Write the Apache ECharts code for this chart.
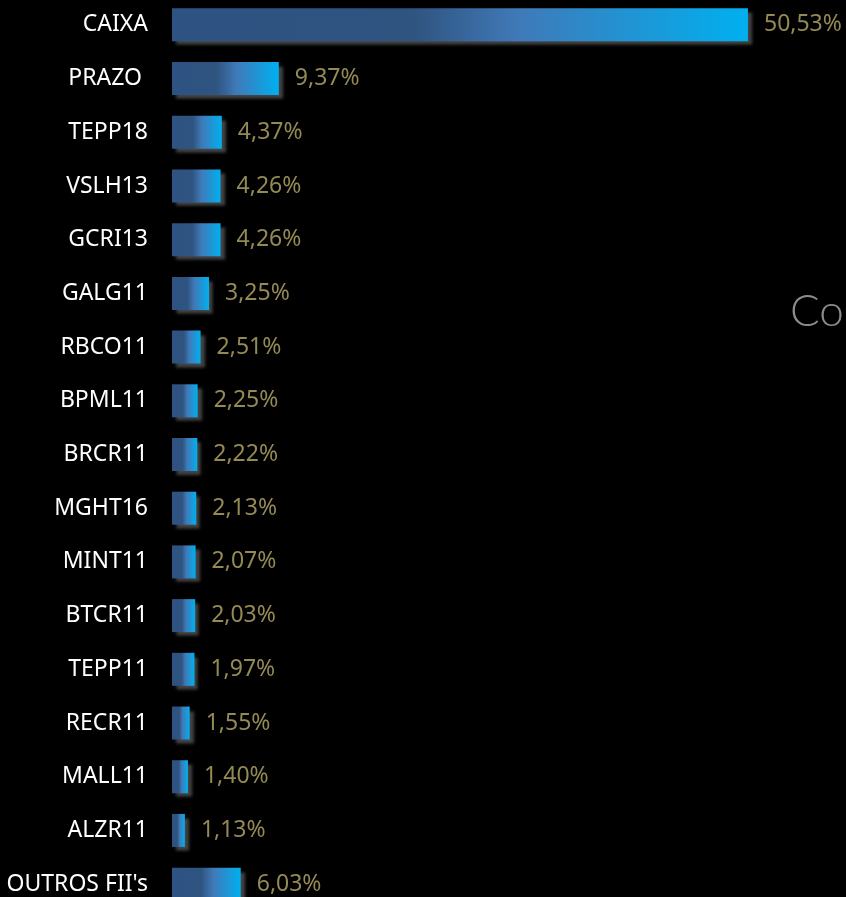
<!DOCTYPE html>
<html>
<head>
<meta charset="utf-8">
<script src="https://cdn.jsdelivr.net/npm/echarts@6/dist/echarts.min.js"></script>
<style>
  html, body { margin: 0; padding: 0; background: #000; }
  #chart { width: 846px; height: 897px; }
</style>
</head>
<body>
<div id="chart"></div>
<script>
const categories = ['CAIXA', 'PRAZO ', 'TEPP18', 'VSLH13', 'GCRI13', 'GALG11', 'RBCO11', 'BPML11', 'BRCR11', 'MGHT16', 'MINT11', 'BTCR11', 'TEPP11', 'RECR11', 'MALL11', 'ALZR11', "OUTROS FII's"]
const values = [50.53, 9.37, 4.37, 4.26, 4.26, 3.25, 2.51, 2.25, 2.22, 2.13, 2.07, 2.03, 1.97, 1.55, 1.40, 1.13, 6.03]
const titleText = 'Composição'

const chart = echarts.init(document.getElementById('chart'))

const barColor = new echarts.graphic.LinearGradient(0, 0, 1, 0, [
  { offset: 0, color: '#2e5383' },
  { offset: 0.42, color: '#2f5480' },
  { offset: 0.6, color: '#4079b8' },
  { offset: 1, color: '#00b0f0' },
])

chart.setOption({
  animation: false,
  backgroundColor: '#000',
  graphic: [
    {
      type: 'text',
      left: 790,
      top: 290,
      style: { text: titleText, fill: '#8c8c8c', font: '300 44px Lato' },
    },
  ],
  grid: { left: 172, right: 0, top: -2, height: 913, outerBoundsMode: 'none', containLabel: false },
  xAxis: {
    type: 'value',
    min: 0,
    max: 59.13,
    show: false,
  },
  yAxis: {
    type: 'category',
    inverse: true,
    data: categories,
    axisLine: { show: false },
    axisTick: { show: false },
    splitLine: { show: false },
    axisLabel: { color: '#ffffff', fontSize: 23, fontFamily: 'Noto Sans', margin: 24 },
  },
  series: [
    {
      type: 'bar',
      data: values,
      barWidth: 33,
      itemStyle: {
        color: barColor,
        shadowColor: 'rgba(75,75,75,0.9)',
        shadowBlur: 3,
        shadowOffsetX: 4,
        shadowOffsetY: 4,
      },
      label: {
        show: true,
        position: 'right',
        distance: 16,
        color: '#948a54',
        fontSize: 23,
        fontFamily: 'Noto Sans',
        formatter: (p) => p.value.toFixed(2).replace('.', ',') + '%',
      },
    },
  ],
})
</script>
</body>
</html>
